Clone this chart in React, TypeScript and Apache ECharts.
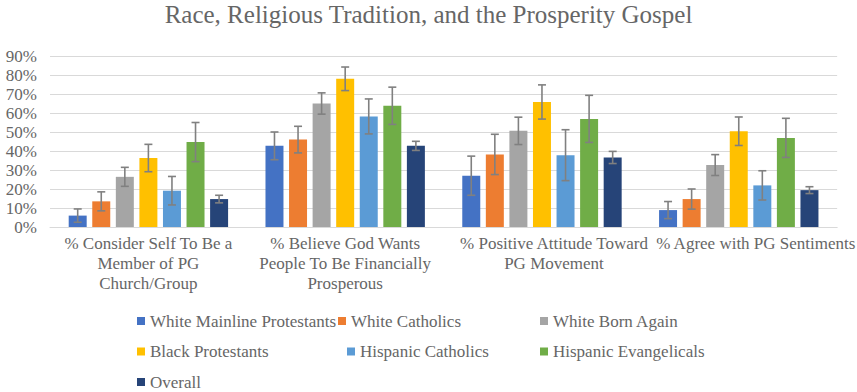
import React, { useEffect, useRef } from "react";
import * as echarts from "echarts";

const categories = [
  "% Consider Self To Be a\nMember of PG\nChurch/Group",
  "% Believe God Wants\nPeople To Be Financially\nProsperous",
  "% Positive Attitude Toward\nPG Movement",
  "% Agree with PG Sentiments",
];

const seriesNames = [
  "White Mainline Protestants",
  "White Catholics",
  "White Born Again",
  "Black Protestants",
  "Hispanic Catholics",
  "Hispanic Evangelicals",
  "Overall",
];

const whiteMainline = [6, 42.7, 27, 8.9];
const whiteCatholics = [13.5, 46, 38.2, 14.7];
const whiteBornAgain = [26.4, 65, 50.6, 32.6];
const blackProtestants = [36.3, 78, 65.8, 50.4];
const hispanicCatholics = [19.1, 58.2, 37.8, 21.9];
const hispanicEvangelicals = [44.7, 63.8, 56.9, 46.9];
const overall = [14.7, 42.7, 36.6, 19.4];

const errWhiteMainline = [3.5, 7.3, 10.3, 4.5];
const errWhiteCatholics = [5, 7, 10.6, 5.3];
const errWhiteBornAgain = [5, 5.6, 7.2, 5.5];
const errBlackProtestants = [7.2, 6.2, 9, 7.5];
const errHispanicCatholics = [7.5, 9.2, 13.4, 7.7];
const errHispanicEvangelicals = [10.3, 9.8, 12.4, 10.3];
const errOverall = [2, 2.4, 3.2, 1.8];

const yTicks = [0, 10, 20, 30, 40, 50, 60, 70, 80, 90];

const values = [
  whiteMainline,
  whiteCatholics,
  whiteBornAgain,
  blackProtestants,
  hispanicCatholics,
  hispanicEvangelicals,
  overall,
];
const errors = [
  errWhiteMainline,
  errWhiteCatholics,
  errWhiteBornAgain,
  errBlackProtestants,
  errHispanicCatholics,
  errHispanicEvangelicals,
  errOverall,
];

const colors = ["#4472C4", "#ED7D31", "#A5A5A5", "#FFC000", "#5B9BD5", "#70AD47", "#264478"];

const FONT = "serif";
const TEXT = "#666666";
const CAT_GAP = 0.19;
const BAR_GAP = 0.31;

const legendPos = [
  { left: 137, top: 312.5 },
  { left: 338, top: 312.5 },
  { left: 540, top: 312.5 },
  { left: 137, top: 343 },
  { left: 347, top: 343 },
  { left: 540, top: 343 },
  { left: 137, top: 373.5 },
];

const labelShift = [0, 0, 24, 34];

const baseText = {
  fontFamily: FONT,
  fontSize: 17,
  fontWeight: "normal",
  color: TEXT,
};

export default function App() {
  const ref = useRef<HTMLDivElement>(null);
  useEffect(() => {
    if (!ref.current) return;
    const chart = echarts.init(ref.current, undefined, { renderer: "svg" });
    const n = seriesNames.length;

    const barSeries = seriesNames.map((name, i) => ({
      name,
      type: "bar",
      data: values[i],
      itemStyle: { color: colors[i] },
      barCategoryGap: `${CAT_GAP * 100}%`,
      barGap: `${BAR_GAP * 100}%`,
    }));

    const errSeries = seriesNames.map((name, si) => ({
      name: "err-" + name,
      type: "custom",
      z: 5,
      data: values[si].map((v, ci) => [ci, v + errors[si][ci], v - errors[si][ci]]),
      encode: { x: 0, y: [1, 2] },
      renderItem: (params: any, api: any) => {
        const ci = api.value(0);
        const pTop = api.coord([ci, api.value(1)]);
        const pBot = api.coord([ci, api.value(2)]);
        const band = api.size([1, 0])[0];
        const bw = (band * (1 - CAT_GAP)) / (n + (n - 1) * BAR_GAP);
        const stride = bw * (1 + BAR_GAP);
        const x = pTop[0] + (si - (n - 1) / 2) * stride;
        const style = { stroke: "#808080", lineWidth: 1.6 };
        const cap = 4;
        return {
          type: "group",
          children: [
            { type: "line", shape: { x1: x, y1: pTop[1], x2: x, y2: pBot[1] }, style },
            { type: "line", shape: { x1: x - cap, y1: pTop[1], x2: x + cap, y2: pTop[1] }, style },
            { type: "line", shape: { x1: x - cap, y1: pBot[1], x2: x + cap, y2: pBot[1] }, style },
          ],
        };
      },
    }));

    const rich: any = {};
    labelShift.forEach((s, i) => {
      rich["c" + i] = {
        ...baseText,
        lineHeight: 20,
        padding: [0, 0, 0, s],
      };
    });

    chart.setOption({
      animation: false,
      backgroundColor: "#ffffff",
      title: {
        text: "Race, Religious Tradition, and the Prosperity Gospel",
        left: "center",
        top: 0,
        padding: [2, 0, 0, 0],
        textStyle: { ...baseText, fontSize: 25 },
      },
      legend: seriesNames.map((name, i) => ({
        data: [name],
        left: legendPos[i].left,
        top: legendPos[i].top,
        padding: 0,
        icon: "rect",
        itemWidth: 8,
        itemHeight: 8,
        selectedMode: false,
        textStyle: { ...baseText },
      })),
      grid: { left: 50, right: 5, top: 56, bottom: 165, containLabel: false },
      xAxis: {
        type: "category",
        data: categories,
        axisLine: { show: true, lineStyle: { color: "#d9d9d9", width: 1 } },
        axisTick: { show: false },
        axisLabel: {
          ...baseText,
          interval: 0,
          margin: 6,
          lineHeight: 20,
          formatter: (val: string, idx: number) =>
            val
              .split("\n")
              .map((l) => `{c${idx}|${l}}`)
              .join("\n"),
          rich,
        },
      },
      yAxis: {
        type: "value",
        min: yTicks[0],
        max: yTicks[yTicks.length - 1],
        interval: yTicks[1] - yTicks[0],
        axisLine: { show: false },
        axisTick: { show: false },
        splitLine: { lineStyle: { color: "#d9d9d9", width: 1 } },
        axisLabel: {
          ...baseText,
          margin: 13,
          formatter: "{value}%",
        },
      },
      series: [...barSeries, ...errSeries],
    });
    return () => chart.dispose();
  }, []);

  return (
    <div
      ref={ref}
      style={{ position: "absolute", left: 0, top: 0, width: 857, height: 392 }}
    />
  );
}
